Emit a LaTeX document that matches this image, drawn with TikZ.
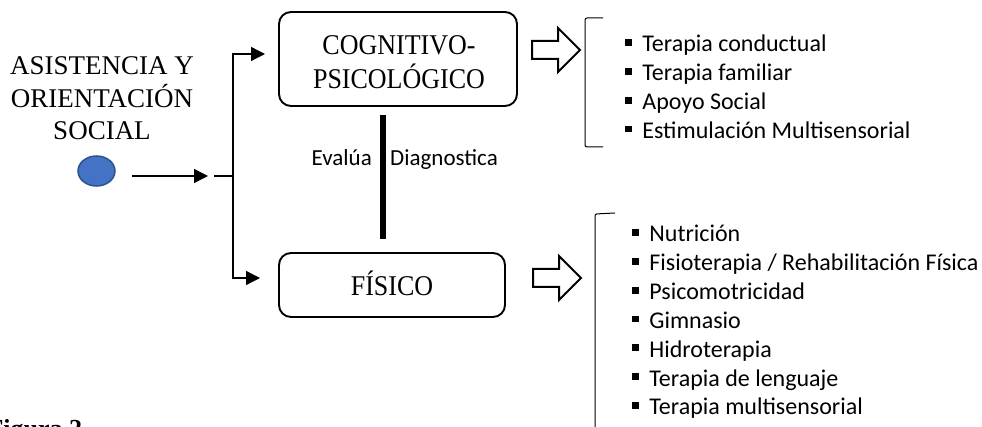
\documentclass[tikz,border=0pt]{standalone}
\usepackage{fontspec}
\setmainfont{Liberation Serif}
\newfontfamily\calfont{Carlito}
\usetikzlibrary{arrows.meta,calc,shapes.geometric}
\definecolor{dotfill}{HTML}{4472C4}
\definecolor{dotline}{HTML}{2F528F}
\newcommand{\bul}{\rule[0.25em]{6.7pt}{6.7pt}\hspace{10.5pt}}
\begin{document}
\begin{tikzpicture}[x=1pt,y=-1pt,
  serif/.style={font=\fontsize{27}{32.5}\selectfont, inner sep=0pt, align=center},
  box/.style={draw, line width=1.9pt, rounded corners=12pt, inner sep=0pt},
  boxtext/.style={font=\fontsize{26}{30.3}\selectfont, inner sep=0pt, align=center, yscale=1.1, transform shape},
  conn/.style={line width=1.3pt, -{Triangle[length=14pt,width=14pt]}},
  plain/.style={line width=1.3pt},
  item/.style={font=\calfont\fontsize{24}{29}\selectfont, anchor=base west, inner sep=0pt},
  lbl/.style={font=\calfont\fontsize{23}{28}\selectfont, inner sep=0pt},
  hollow/.style={draw, line width=2pt, fill=white, line join=miter},
  brk/.style={line width=1pt, rounded corners=2pt},
  barline/.style={line width=5.5pt}]
\path[use as bounding box] (0,0) rectangle (982,427);
\clip (0,0) rectangle (982,427);

% left title and dot
\node[serif] (title) at (102,98.5) {ASISTENCIA Y\\ORIENTACIÓN\\SOCIAL};
\node[ellipse, draw=dotline, fill=dotfill, line width=1.5pt, minimum width=37pt, minimum height=30pt, inner sep=0pt] (dot) at (96.5,171) {};

% boxes
\node[box, minimum width=238pt, minimum height=94pt] (cog) at (398,59) {};
\node[boxtext] (cogtxt) at (399,62.1) {COGNITIVO-\\PSICOLÓGICO};
\node[box, minimum width=226pt, minimum height=64pt] (fis) at (392,285) {};
\node[boxtext] (fistxt) at (392,283.5) {FÍSICO};

% connectors
\coordinate (a0) at (208,176);
\coordinate (j0) at (214,176);
\coordinate (jn) at (233,176);
\coordinate (ct) at (265,54);
\coordinate (fa) at (260,278);
\draw[conn, shorten <=16pt] (dot.east |- a0) -- (a0);
\draw[plain] (j0) -- (jn);
\draw[conn] (jn) |- (ct);
\draw[conn] (jn) |- (fa);

% thick bar and labels
\coordinate (b1) at (383,115);
\coordinate (b2) at (383,239);
\draw[barline] (b1) -- (b2);
\node[lbl, anchor=base east] (ev) at (372,166) {Evalúa};
\node[lbl, anchor=base west] (dg) at (390,166) {Diagnostica};

% hollow arrows
\coordinate (h1) at (532,50);
\draw[hollow] (h1) ++(0,-9) -- ++(26,0) -- ++(0,-13) -- ++(22,22) -- ++(-22,22) -- ++(0,-13) -- ++(-26,0) -- cycle;
\coordinate (h2) at (533,278);
\draw[hollow] (h2) ++(0,-9) -- ++(26,0) -- ++(0,-13) -- ++(22,22) -- ++(-22,22) -- ++(0,-13) -- ++(-26,0) -- cycle;

% brackets
\draw[brk] (603,18) -- (585,18) -- (585,147) -- (603,147);
\draw[brk] (615,213) -- (595,214) -- (595,445);

% lists
\foreach \t [count=\i] in {Terapia conductual, Terapia familiar, Apoyo Social, Estimulación Multisensorial}
  \node[item] (la\i) at (625,{52+28.8*(\i-1)}) {\bul\t};
\foreach \t [count=\i] in {Nutrición, Fisioterapia / Rehabilitación Física, Psicomotricidad, Gimnasio, Hidroterapia, Terapia de lenguaje, Terapia multisensorial}
  \node[item] (lb\i) at (632,{242+28.8*(\i-1)}) {\bul\t};

% caption (cut off at the lower edge, as in the reference)
\node[font=\bfseries\fontsize{26}{30}\selectfont, anchor=base west, inner sep=0pt] (fig) at (-12.6,437) {Figura 2};
\end{tikzpicture}
\end{document}
